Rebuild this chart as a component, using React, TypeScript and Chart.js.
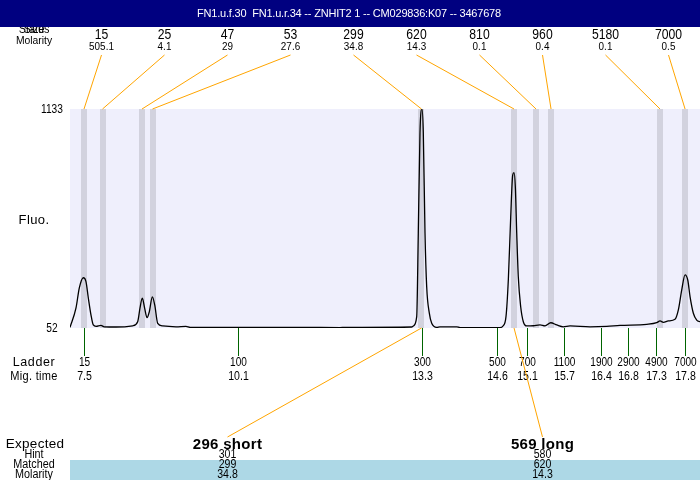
import React, { useEffect, useRef } from 'react';
import { Chart, registerables } from 'chart.js';

Chart.register(...registerables);

const headerTitle = 'FN1.u.f.30  FN1.u.r.34 -- ZNHIT2 1 -- CM029836:K07 -- 3467678';

// Detected sample peaks (top table)
const peakSizes = [15, 25, 47, 53, 299, 620, 810, 960, 5180, 7000];
const peakMolarity = ['505.1', '4.1', '29', '27.6', '34.8', '14.3', '0.1', '0.4', '0.1', '0.5'];
const peakTimes = [7.495, 7.812, 8.489, 8.669, 13.279, 14.865, 15.242, 15.499, 17.367, 17.796];

// Ladder (bottom axis)
const ladderSizes = [15, 100, 300, 500, 700, 1100, 1900, 2900, 4900, 7000];
const ladderTimes = [7.5, 10.14, 13.29, 14.58, 15.08, 15.72, 16.36, 16.82, 17.3, 17.8];

// Expected products table
const expectedLabels = ['296 short', '569 long'];
const hintSizes = ['301', '580'];
const matchedSizes = ['299', '620'];
const matchedMolarity = ['34.8', '14.3'];
const matchedPeakIndex = [4, 5];

// Fluorescence trace
const traceTime = [
  7.255, 7.358, 7.414, 7.483, 7.529, 7.569, 7.615, 7.654, 7.701, 7.786, 7.843, 8.043,
  8.33, 8.415, 8.455, 8.494, 8.535, 8.575, 8.614, 8.666, 8.707, 8.758, 8.844, 9.072,
  9.243, 9.312, 11.197, 11.882, 11.968, 13.111, 13.138, 13.197, 13.224, 13.253, 13.287,
  13.31, 13.339, 13.368, 13.413, 13.454, 13.54, 13.596, 13.882, 13.939, 14.624, 14.676,
  14.727, 14.767, 14.808, 14.842, 14.865, 14.887, 14.911, 14.938, 14.979, 15.024, 15.082,
  15.195, 15.31, 15.396, 15.494, 15.597, 15.71, 15.825, 16.167, 16.453, 16.681, 17.139,
  17.31, 17.367, 17.424, 17.509, 17.624, 17.681, 17.739, 17.796, 17.842, 17.882, 17.938,
  17.996, 18.052,
];
const traceFluo = [
  55, 151, 249, 300, 281, 200, 116, 67, 60, 65, 58, 57,
  63, 83, 151, 199, 149, 103, 132, 206, 166, 75, 62, 58,
  60, 55, 55, 54, 55, 57, 62, 108, 521, 1015, 1133,
  1015, 521, 256, 125, 75, 55, 58, 58, 54, 54, 62,
  108, 289, 601, 807, 819, 749, 521, 305, 157, 83, 62,
  63, 67, 62, 78, 67, 58, 62, 58, 60, 65, 70,
  78, 87, 80, 87, 95, 141, 240, 314, 289, 206, 125,
  91, 83,
];

const yMin = 52;
const yMax = 1133;
const xMin = 7.255;
const xMax = 18.052;

const FONT = '"Liberation Sans", Arial, sans-serif';

function txt(ctx: any, s: string, x: number, y: number, font: string, sx = 1, ls = '0px') {
  ctx.save();
  ctx.font = font;
  ctx.letterSpacing = ls;
  ctx.translate(x, y);
  ctx.scale(sx, 1);
  ctx.fillText(s, 0, 0);
  ctx.restore();
}

const drawPlugin = {
  id: 'electro',
  beforeDraw(chart: any) {
    const { ctx, chartArea: a, scales } = chart;
    const x = scales.x;
    ctx.save();
    ctx.fillStyle = '#ffffff';
    ctx.fillRect(0, 0, chart.width, chart.height);
    ctx.fillStyle = 'rgb(239,239,252)';
    ctx.fillRect(a.left, a.top, a.right - a.left, a.bottom - a.top);
    ctx.fillStyle = 'rgb(210,210,222)';
    peakTimes.forEach((t) => {
      const px = Math.round(x.getPixelForValue(t));
      ctx.fillRect(px - 3, a.top, 6, a.bottom - a.top);
    });
    ctx.restore();
  },
  afterDraw(chart: any) {
    const { ctx, chartArea: a, scales } = chart;
    const x = scales.x;
    const W = a.right - a.left;
    ctx.save();
    ctx.textAlign = 'center';
    ctx.textBaseline = 'middle';
    ctx.fillStyle = '#000';

    // top-left labels (partially under header)
    ctx.textBaseline = 'alphabetic';
    txt(ctx, 'Status', 34, 33, `12px ${FONT}`, 0.9);
    txt(ctx, 'Size', 34, 33, `12px ${FONT}`, 0.9);
    ctx.textBaseline = 'middle';
    txt(ctx, 'Molarity', 34, 41, `11.5px ${FONT}`, 0.9);

    // header
    ctx.fillStyle = '#000080';
    ctx.fillRect(0, 0, chart.width, 27);
    ctx.fillStyle = '#ffffff';
    txt(ctx, headerTitle, 349, 14, `11px ${FONT}`, 1, '-0.2px');

    // top peak table + connectors
    const n = peakSizes.length;
    ctx.strokeStyle = 'orange';
    ctx.lineWidth = 1;
    for (let i = 0; i < n; i++) {
      const lx = a.left + (W * (i + 0.5)) / n;
      const px = x.getPixelForValue(peakTimes[i]);
      ctx.beginPath();
      ctx.moveTo(lx, 55);
      ctx.lineTo(px, a.top);
      ctx.stroke();
      ctx.fillStyle = '#000';
      txt(ctx, String(peakSizes[i]), lx, 35, `14px ${FONT}`, 0.87);
      txt(ctx, peakMolarity[i], lx, 47, `11px ${FONT}`, 0.9);
    }

    // y labels
    ctx.fillStyle = '#000';
    txt(ctx, String(yMax), 52, a.top + 1, `12px ${FONT}`, 0.85);
    txt(ctx, String(yMin), 52, a.bottom + 1, `12px ${FONT}`, 0.85);
    txt(ctx, 'Fluo.', 34, 220, `13px ${FONT}`, 1, '0.4px');

    // ladder ticks
    ctx.strokeStyle = '#006400';
    ctx.lineWidth = 1;
    ladderTimes.forEach((t, i) => {
      const px = Math.round(x.getPixelForValue(t)) + 0.5;
      ctx.beginPath();
      ctx.moveTo(px, a.bottom);
      ctx.lineTo(px, a.bottom + 28);
      ctx.stroke();
      txt(ctx, String(ladderSizes[i]), px, 363, `12px ${FONT}`, 0.84);
      txt(ctx, t.toFixed(1), px, 376.5, `12px ${FONT}`, 0.88);
    });
    txt(ctx, 'Ladder', 34, 363, `12.5px ${FONT}`, 1, '0.6px');
    txt(ctx, 'Mig. time', 34, 376.5, `12px ${FONT}`, 0.92, '0.3px');

    // expected table
    const m = expectedLabels.length;
    ctx.fillStyle = 'lightblue';
    ctx.fillRect(a.left, 460, W, 20);
    ctx.strokeStyle = 'orange';
    for (let j = 0; j < m; j++) {
      const sx = a.left + (W * (j + 0.5)) / m;
      const px = x.getPixelForValue(peakTimes[matchedPeakIndex[j]]);
      ctx.beginPath();
      ctx.moveTo(px, a.bottom);
      ctx.lineTo(sx, 437);
      ctx.stroke();
      ctx.fillStyle = '#000';
      txt(ctx, expectedLabels[j], sx, 445, `bold 15px ${FONT}`, 1, '0.3px');
      txt(ctx, hintSizes[j], sx, 455, `12px ${FONT}`, 0.88);
      txt(ctx, matchedSizes[j], sx, 465, `12px ${FONT}`, 0.88);
      txt(ctx, matchedMolarity[j], sx, 474.5, `12px ${FONT}`, 0.88);
    }
    ctx.fillStyle = '#000';
    txt(ctx, 'Expected', 35, 444, `13.5px ${FONT}`, 1, '0.3px');
    txt(ctx, 'Hint', 34, 455, `12px ${FONT}`, 0.9);
    txt(ctx, 'Matched', 34, 465, `12px ${FONT}`, 0.9);
    txt(ctx, 'Molarity', 34, 474.5, `12px ${FONT}`, 0.9);
    ctx.restore();
  },
};

export default function App() {
  const ref = useRef<HTMLCanvasElement | null>(null);
  useEffect(() => {
    document.body.style.margin = '0';
    const canvas = ref.current;
    if (!canvas) return;
    const chart = new Chart(canvas, {
      type: 'line',
      data: {
        datasets: [
          {
            data: traceTime.map((t, i) => ({ x: t, y: traceFluo[i] })),
            borderColor: '#000',
            borderWidth: 1.3,
            pointRadius: 0,
            cubicInterpolationMode: 'monotone',
            fill: false,
          },
        ],
      },
      options: {
        animation: false,
        responsive: false,
        devicePixelRatio: 1,
        layout: { padding: { left: 70, top: 109, right: 0, bottom: 152 } },
        plugins: { legend: { display: false }, tooltip: { enabled: false } },
        scales: {
          x: { type: 'linear', min: xMin, max: xMax, display: false },
          y: { type: 'linear', min: yMin, max: yMax, display: false },
        },
      },
      plugins: [drawPlugin],
    });
    return () => chart.destroy();
  }, []);
  return (
    <div style={{ position: 'absolute', left: 0, top: 0, width: 700, height: 480 }}>
      <canvas ref={ref} width={700} height={480} style={{ display: 'block' }} />
    </div>
  );
}
